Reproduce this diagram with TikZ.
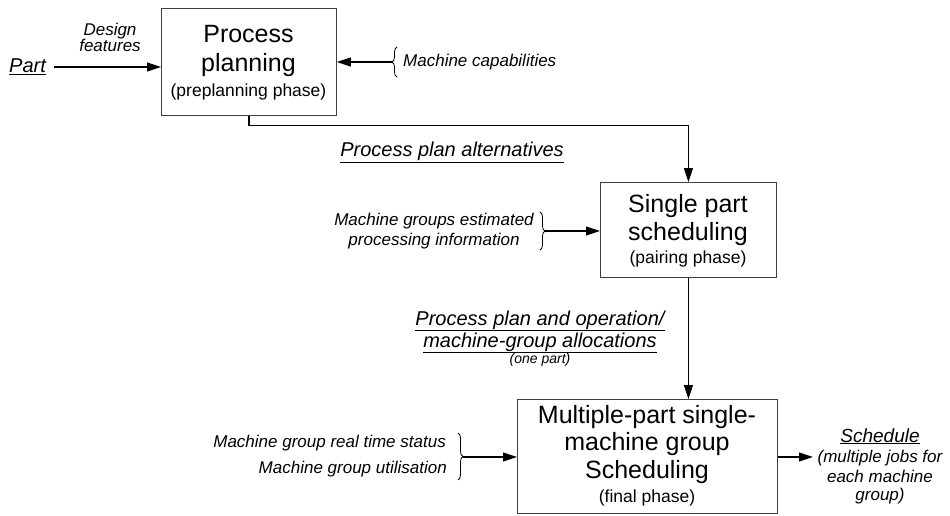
\documentclass[tikz,border=0pt]{standalone}
\usepackage{fontspec}
\setmainfont{Liberation Sans}
\usetikzlibrary{arrows.meta,decorations.pathreplacing}
\begin{document}
\begin{tikzpicture}[x=1pt,y=-1pt,
  box/.style={draw=black!75, line width=0.9pt, inner sep=0pt, anchor=north west},
  arr/.style={-{Triangle[length=14pt,width=9pt]}, line width=1.1pt},
  big/.style={font=\fontsize{25}{29}\selectfont, anchor=base, inner sep=0pt},
  sub/.style={font=\fontsize{17.5}{20}\selectfont, anchor=base, inner sep=0pt},
  lab/.style={font=\fontsize{17}{20}\selectfont\itshape, anchor=base, inner sep=0pt},
  small/.style={font=\fontsize{14}{16}\selectfont\itshape, anchor=base, inner sep=0pt},
  head/.style={font=\fontsize{20}{24}\selectfont\itshape, anchor=base, inner sep=0pt},
  brc/.style={decorate, decoration={brace, amplitude=5pt}, line width=0.8pt}
]
\useasboundingbox (0,0) rectangle (950,516);

% boxes
\node[box, minimum width=175pt, minimum height=107pt] (b1) at (161,8) {};
\node[box, minimum width=176pt, minimum height=95pt] (b2) at (600,182) {};
\node[box, minimum width=260pt, minimum height=114pt] (b3) at (517,399) {};

% box texts
\node[big] (t1a) at (248.5,43) {Process};
\node[big] (t1b) at (248.5,72) {planning};
\node[sub] (t1c) at (248.5,97) {(preplanning phase)};

\node[big] (t2a) at (688,212) {Single part};
\node[big] (t2b) at (688,240) {scheduling};
\node[sub] (t2c) at (688,263) {(pairing phase)};

\node[big] (t3a) at (647,423) {Multiple-part single-};
\node[big] (t3b) at (647,450) {machine group};
\node[big] (t3c) at (647,478) {Scheduling};
\node[sub] (t3d) at (647,502) {(final phase)};

% Part input
\node[head] (part) at (27.5,73) {\underline{Part}};
\node[lab] (df1) at (110,36) {Design};
\node[lab] (df2) at (110,52) {features};
\coordinate (pa) at (54,67);
\draw[arr] (pa) -- (pa -| b1.west);

% Machine capabilities
\draw[brc] (397,77) -- (397,47);
\coordinate (mc) at (392,62);
\draw[arr] (mc) -- (mc -| b1.east);
\node[lab, anchor=base west] (mct) at (403,67) {Machine capabilities};

% Process plan alternatives
\draw[arr] (b1.south) -- ++(0,10) -| (b2.north);
\node[head] (ppa) at (452,157) {\underline{Process plan alternatives}};

% Machine groups estimated
\node[lab] (mg1) at (434,225) {Machine groups estimated};
\node[lab] (mg2) at (434,245) {processing information};
\draw[brc] (540,212) -- (540,250);
\coordinate (mgt) at (545,231);
\draw[arr] (mgt) -- (mgt -| b2.west);

% b2 -> b3
\draw[arr] (b2.south) -- (b2.south |- b3.north);
\node[head] (pp1) at (540,325) {\underline{Process plan and operation/}};
\node[head] (pp2) at (540,347) {\underline{machine-group allocations}};
\node[small] (pp3) at (540,363) {(one part)};

% Machine group status
\node[lab, anchor=base east] (rs1) at (446,447) {Machine group real time status};
\node[lab, anchor=base east] (rs2) at (447,473) {Machine group utilisation};
\draw[brc] (458,433) -- (458,480);
\coordinate (rst) at (463,457);
\draw[arr] (rst) -- (rst -| b3.west);

% Output schedule
\coordinate (sc) at (813,457);
\draw[arr] (sc -| b3.east) -- (sc);
\node[head, font=\fontsize{19}{22}\selectfont\itshape] (s1) at (880,442) {\underline{Schedule}};
\node[lab] (s2) at (880,462) {(multiple jobs for};
\node[lab] (s3) at (880,482) {each machine};
\node[lab] (s4) at (880,500) {group)};
\end{tikzpicture}
\end{document}
